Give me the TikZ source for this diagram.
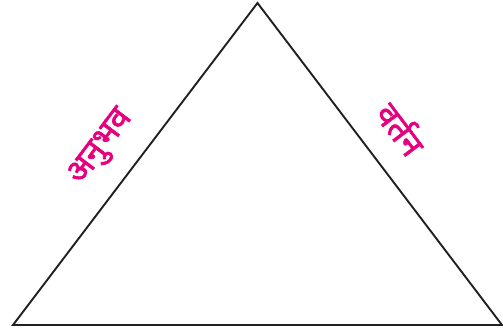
\documentclass[tikz,border=0pt]{standalone}
\usepackage{fontspec}
\newfontfamily\devfont[Script=Devanagari,FakeBold=2]{Noto Sans}
\usepackage{tikz}
\definecolor{lbl}{HTML}{E6007E}
\definecolor{ink}{HTML}{231F20}

\begin{document}
\begin{tikzpicture}[x=1pt,y=1pt,
    side/.style={draw=ink,line width=1.9pt},
    lab/.style={text=lbl,font=\devfont\fontsize{33}{35}\selectfont,inner sep=0pt}]
    \useasboundingbox (0,0) rectangle (503,335);
    \coordinate (top) at (257.5,332);
    \coordinate (bl) at (13,10);
    \coordinate (br) at (502,10);
    \draw[side] (bl) -- (top) -- (br) -- cycle;
    \node[lab,rotate=53] (anubhav) at (102,187) {अनुभव};
    \node[lab,rotate=-53] (vartan) at (402,207) {वर्तन};
  \end{tikzpicture}
\end{document}
